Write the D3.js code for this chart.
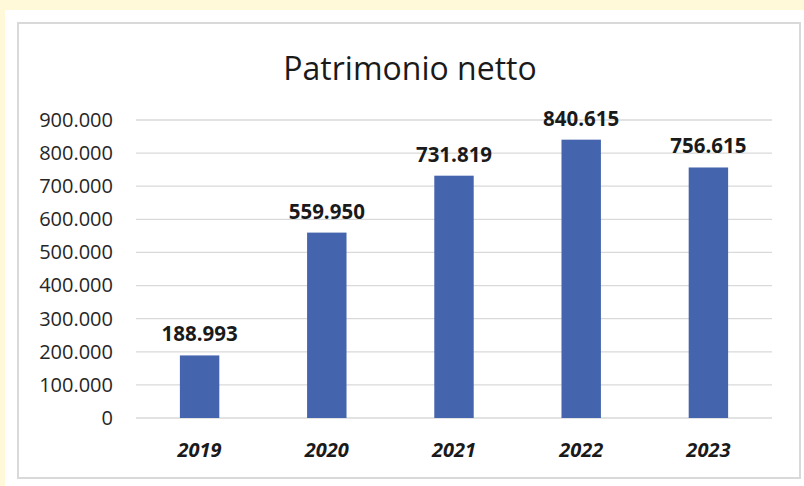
<!DOCTYPE html>
<html>
<head>
<meta charset="utf-8">
<script src="https://cdn.jsdelivr.net/npm/d3@7"></script>
<style>
  body { margin: 0; background: #fff9d9; }
  svg { display: block; font-family: "Open Sans", "Noto Sans", sans-serif; }
</style>
</head>
<body>
<svg id="chart"></svg>
<script>
var width = 804;
var height = 486;

var years = ["2019", "2020", "2021", "2022", "2023"];
var values = [188993, 559950, 731819, 840615, 756615];
var ticks = [0, 100000, 200000, 300000, 400000, 500000, 600000, 700000, 800000, 900000];

var fmt = d3.formatLocale({decimal: ",", thousands: ".", grouping: [3], currency: ["", "€"]}).format(",");

var svg = d3.select("#chart")
  .attr("width", width)
  .attr("height", height);

// white page area
svg.append("rect")
  .attr("x", 5).attr("y", 10)
  .attr("width", width - 5).attr("height", height - 10)
  .style("fill", "#fff");

// chart frame
svg.append("rect")
  .attr("x", 18).attr("y", 23)
  .attr("width", 782).attr("height", 455)
  .style("fill", "#fff")
  .style("stroke", "#d9d9d9")
  .style("stroke-width", 2);

var x = d3.scaleBand()
  .domain(years)
  .range([136, 772])
  .paddingInner(0.69)
  .paddingOuter(0.345);

var y = d3.scaleLinear()
  .domain([0, 900000])
  .range([418, 120]);

// gridlines
svg.append("g")
  .selectAll("line")
  .data(ticks)
  .enter()
  .append("line")
  .attr("x1", 136).attr("x2", 772)
  .attr("y1", function(d) { return y(d); })
  .attr("y2", function(d) { return y(d); })
  .style("stroke", "#d9d9d9")
  .style("stroke-width", 1.3);

// y axis labels
var yAxis = d3.axisLeft(y).tickValues(ticks).tickSize(0).tickPadding(0).tickFormat(fmt);
var ya = svg.append("g")
  .attr("transform", "translate(113,0)")
  .call(yAxis);
ya.select(".domain").remove();
ya.selectAll("text")
  .style("font-size", "20px")
  .style("font-family", "'Open Sans', sans-serif")
  .style("fill", "#262626");

// bars
svg.append("g")
  .selectAll("rect")
  .data(values)
  .enter()
  .append("rect")
  .attr("x", function(d, i) { return x(years[i]); })
  .attr("y", function(d) { return y(d); })
  .attr("width", x.bandwidth())
  .attr("height", function(d) { return y(0) - y(d); })
  .style("fill", "#4564ae");

// value labels
svg.append("g")
  .selectAll("text")
  .data(values)
  .enter()
  .append("text")
  .attr("x", function(d, i) { return x(years[i]) + x.bandwidth() / 2; })
  .attr("y", function(d) { return y(d) - 14; })
  .attr("text-anchor", "middle")
  .style("font-size", "20.5px")
  .style("font-weight", "bold")
  .style("fill", "#1a1a1a")
  .text(function(d) { return fmt(d); });

// x axis labels
var xAxis = d3.axisBottom(x).tickSize(0).tickPadding(0);
var xa = svg.append("g")
  .attr("transform", "translate(0,443)")
  .call(xAxis);
xa.select(".domain").remove();
xa.selectAll("text")
  .style("font-size", "20px")
  .style("font-weight", "bold")
  .style("font-style", "italic")
  .style("font-family", "'Open Sans', sans-serif")
  .style("fill", "#1a1a1a");

// title
svg.append("text")
  .attr("x", 410).attr("y", 80)
  .attr("text-anchor", "middle")
  .style("font-size", "32px")
  .style("fill", "#1a1a1a")
  .text("Patrimonio netto");
</script>
</body>
</html>
